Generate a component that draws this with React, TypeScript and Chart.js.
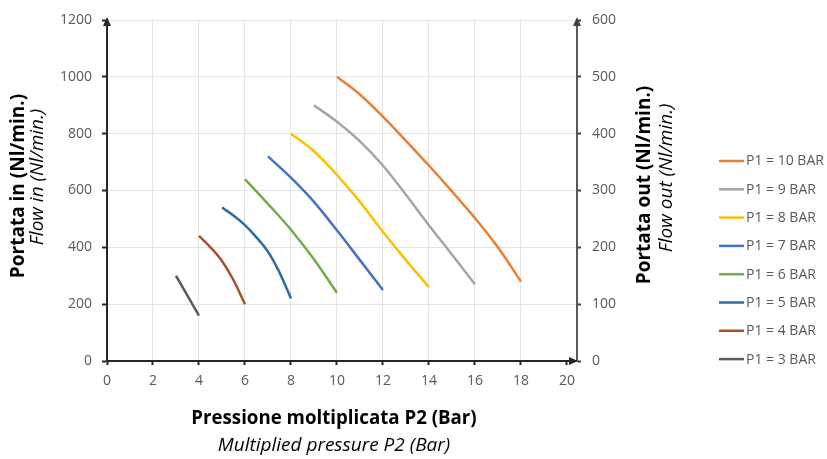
import { useEffect, useRef } from "react";
import { Chart, registerables } from "chart.js";

Chart.register(...registerables);

// ---- data ----
const seriesLabels = [
  "P1 = 10 BAR",
  "P1 = 9 BAR",
  "P1 = 8 BAR",
  "P1 = 7 BAR",
  "P1 = 6 BAR",
  "P1 = 5 BAR",
  "P1 = 4 BAR",
  "P1 = 3 BAR",
];
const seriesColors = [
  "#ED7D31",
  "#A5A5A5",
  "#FFC000",
  "#4472C4",
  "#70AD47",
  "#2E6DA4",
  "#A8502A",
  "#5A5A5A",
];

const p2Bar10 = [10, 11, 12, 13, 14, 15, 16, 17, 18];
const flowBar10 = [1000, 938, 860, 775, 688, 597, 503, 400, 280];
const p2Bar9 = [9, 10, 11, 12, 13, 14, 15, 16];
const flowBar9 = [900, 842, 773, 688, 585, 478, 375, 270];
const p2Bar8 = [8, 9, 10, 11, 12, 13, 14];
const flowBar8 = [800, 738, 655, 560, 455, 355, 260];
const p2Bar7 = [7, 8, 9, 10, 11, 12];
const flowBar7 = [720, 645, 560, 460, 355, 250];
const p2Bar6 = [6, 7, 8, 9, 10];
const flowBar6 = [640, 553, 462, 358, 240];
const p2Bar5 = [5, 5.5, 6, 6.5, 7, 7.5, 8];
const flowBar5 = [540, 512, 478, 435, 385, 312, 220];
const p2Bar4 = [4, 4.5, 5, 5.5, 6];
const flowBar4 = [440, 400, 352, 285, 200];
const p2Bar3 = [3, 4];
const flowBar3 = [300, 160];

const seriesX = [p2Bar10, p2Bar9, p2Bar8, p2Bar7, p2Bar6, p2Bar5, p2Bar4, p2Bar3];
const seriesY = [flowBar10, flowBar9, flowBar8, flowBar7, flowBar6, flowBar5, flowBar4, flowBar3];

const xTitle = "Pressione moltiplicata P2 (Bar)";
const xSubTitle = "Multiplied pressure P2 (Bar)";
const yTitle = "Portata in (Nl/min.)";
const ySubTitle = "Flow in (Nl/min.)";
const y2Title = "Portata out (Nl/min.)";
const y2SubTitle = "Flow out (Nl/min.)";

const xMin = 0;
const xMax = 20.44;
const xStep = 2;
const yMin = 0;
const yMax = 1200;
const yStep = 200;
const y2Min = 0;
const y2Max = 600;
const y2Step = 100;

const FONT = "'Open Sans', 'DejaVu Sans', sans-serif";

const decorPlugin = {
  id: "decor",
  afterDraw(chart: any) {
    const ctx = chart.ctx as CanvasRenderingContext2D;
    const ca = chart.chartArea;
    ctx.save();
    // arrows
    const arrowUp = (x: number, y: number, c: string) => {
      ctx.fillStyle = c;
      ctx.beginPath();
      ctx.moveTo(x, y - 3);
      ctx.lineTo(x - 4, y + 6);
      ctx.lineTo(x + 4, y + 6);
      ctx.closePath();
      ctx.fill();
    };
    arrowUp(ca.left, ca.top, "#262626");
    arrowUp(ca.right, ca.top, "#404040");
    ctx.fillStyle = "#262626";
    ctx.beginPath();
    ctx.moveTo(ca.right + 1, ca.bottom);
    ctx.lineTo(ca.right - 8, ca.bottom - 4);
    ctx.lineTo(ca.right - 8, ca.bottom + 4);
    ctx.closePath();
    ctx.fill();

    // axis titles
    ctx.fillStyle = "#000";
    ctx.textAlign = "center";
    ctx.textBaseline = "middle";
    const vText = (t: string, x: number, y: number, font: string) => {
      ctx.save();
      ctx.translate(x, y);
      ctx.rotate(-Math.PI / 2);
      ctx.font = font;
      ctx.fillText(t, 0, 0);
      ctx.restore();
    };
    vText(yTitle, 19, 186, `bold 19px ${FONT}`);
    vText(ySubTitle, 38, 177, `italic 19px ${FONT}`);
    vText(y2Title, 645, 185, `bold 19px ${FONT}`);
    vText(y2SubTitle, 667, 178, `italic 19px ${FONT}`);
    ctx.font = `bold 18.7px ${FONT}`;
    ctx.fillText(xTitle, 334, 419);
    ctx.font = `italic 19px ${FONT}`;
    ctx.fillText(xSubTitle, 334, 446);

    // legend
    ctx.textAlign = "left";
    ctx.font = `14px ${FONT}`;
    chart.data.datasets.forEach((ds: any, i: number) => {
      const y = 161 + i * 28.3;
      ctx.strokeStyle = ds.borderColor;
      ctx.lineWidth = 2.5;
      ctx.beginPath();
      ctx.moveTo(719, y);
      ctx.lineTo(744, y);
      ctx.stroke();
      ctx.fillStyle = "#595959";
      ctx.fillText(ds.label, 746, y + 0.5);
    });
    ctx.restore();
  },
};

export default function App() {
  const canvasRef = useRef<HTMLCanvasElement | null>(null);

  useEffect(() => {
    if (!canvasRef.current) return;
    const datasets = seriesLabels.map((label, i) => ({
      label,
      data: seriesX[i].map((x, j) => ({ x, y: seriesY[i][j] })),
      borderColor: seriesColors[i],
      backgroundColor: seriesColors[i],
      borderWidth: 2.5,
      pointRadius: 0,
      tension: 0.4,
      cubicInterpolationMode: "monotone" as const,
      fill: false,
      yAxisID: "y",
    }));
    const tickFont = { family: FONT, size: 14 };
    const plain = (v: any) => String(v);
    const chart = new Chart(canvasRef.current, {
      type: "line",
      data: { datasets },
      options: {
        responsive: false,
        animation: false,
        layout: { padding: { top: 20, left: 0, right: 0, bottom: 0 } },
        plugins: { legend: { display: false }, tooltip: { enabled: false } },
        scales: {
          x: {
            type: "linear",
            min: xMin,
            max: xMax,
            ticks: {
              stepSize: xStep,
              includeBounds: false,
              color: "#595959",
              font: tickFont,
              padding: 8,
              maxRotation: 0,
              callback: plain,
            },
            grid: {
              color: (c: any) => (c.tick && c.tick.value >= 20 ? "rgba(0,0,0,0)" : "#e3e3e3"),
              tickColor: "#262626",
              tickLength: 4,
              tickWidth: 2,
            },
            border: { display: true, color: "#262626", width: 2 },
            afterFit: (s: any) => {
              s.height = 98;
            },
          },
          y: {
            type: "linear",
            position: "left",
            min: yMin,
            max: yMax,
            ticks: { stepSize: yStep, color: "#595959", font: tickFont, padding: 10, callback: plain },
            grid: { color: "#e3e3e3", tickColor: "#262626", tickLength: 5, tickWidth: 2 },
            border: { display: true, color: "#262626", width: 2 },
            afterFit: (s: any) => {
              s.width = 107;
            },
          },
          y2: {
            type: "linear",
            position: "right",
            min: y2Min,
            max: y2Max,
            ticks: { stepSize: y2Step, color: "#595959", font: tickFont, padding: 11, callback: plain },
            grid: {
              drawOnChartArea: false,
              tickColor: "#404040",
              tickLength: 4,
              tickWidth: 2,
            },
            border: { display: true, color: "#595959", width: 2 },
            afterFit: (s: any) => {
              s.width = 250;
            },
          },
        },
      },
      plugins: [decorPlugin],
    });
    return () => chart.destroy();
  }, []);

  return (
    <div style={{ position: "absolute", left: 0, top: 0, width: 827, height: 459, background: "#fff" }}>
      <canvas ref={canvasRef} width={827} height={459} />
    </div>
  );
}
